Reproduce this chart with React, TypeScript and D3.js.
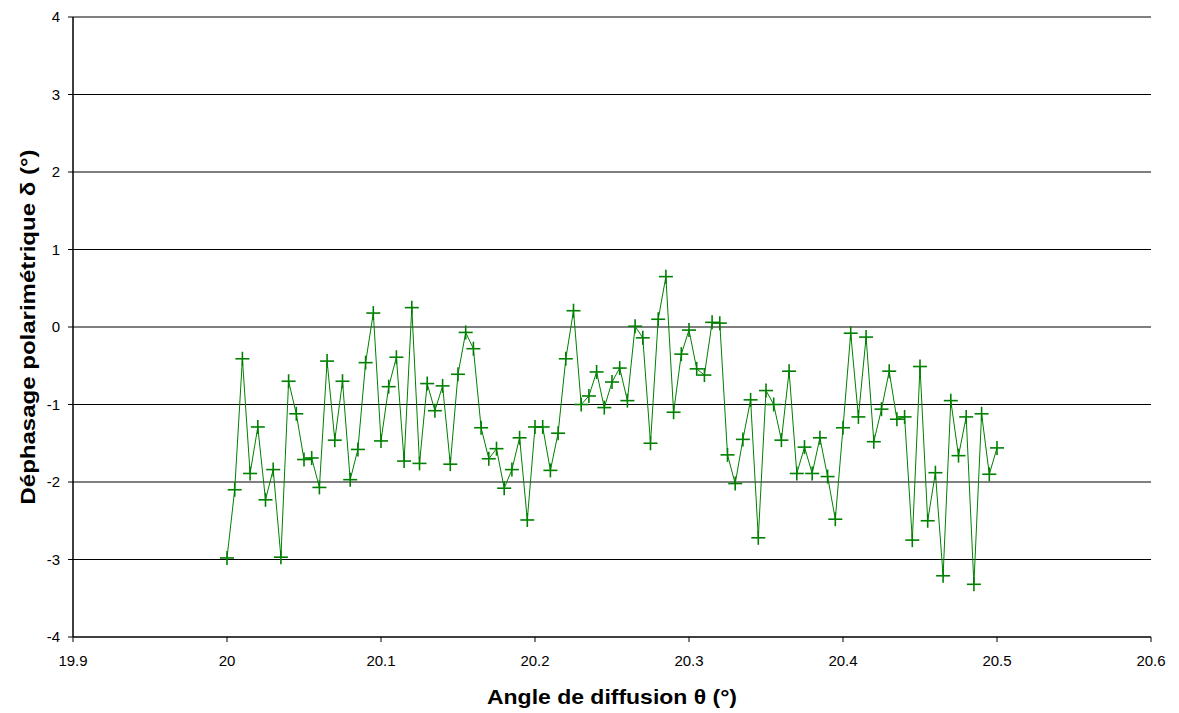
import React from "react";
import * as d3 from "d3";

const xStart = 20.0;
const xStep = 0.005;
const deltaValues: number[] = [
  -2.98, -2.1, -0.41, -1.89, -1.29, -2.23, -1.84, -2.97, -0.7, -1.12,
  -1.71, -1.69, -2.07, -0.44, -1.46, -0.7, -1.97, -1.58, -0.46, 0.18,
  -1.47, -0.77, -0.39, -1.73, 0.25, -1.76, -0.73, -1.08, -0.76, -1.77,
  -0.61, -0.07, -0.28, -1.3, -1.7, -1.57, -2.08, -1.84, -1.43, -2.49,
  -1.29, -1.29, -1.85, -1.37, -0.41, 0.21, -1.0, -0.89, -0.58, -1.04,
  -0.71, -0.53, -0.95, 0.01, -0.14, -1.5, 0.1, 0.65, -1.1, -0.35,
  -0.04, -0.54, -0.62, 0.06, 0.05, -1.65, -2.02, -1.45, -0.94, -2.72,
  -0.82, -1.0, -1.46, -0.57, -1.89, -1.55, -1.89, -1.43, -1.93, -2.48,
  -1.3, -0.08, -1.16, -0.13, -1.48, -1.06, -0.57, -1.19, -1.16, -2.75,
  -0.51, -2.5, -1.88, -3.21, -0.95, -1.66, -1.16, -3.32, -1.12, -1.9,
  -1.56,
];
const xTicks: number[] = [19.9, 20, 20.1, 20.2, 20.3, 20.4, 20.5, 20.6];
const yTicks: number[] = [-4, -3, -2, -1, 0, 1, 2, 3, 4];
const xTitle = "Angle de diffusion θ (°)";
const yTitle = "Déphasage polarimétrique δ (°)";

export default function App() {
  const W = 1179;
  const H = 713;
  const left = 73;
  const right = 1151;
  const top = 17;
  const bottom = 637;
  const x = d3.scaleLinear().domain([19.9, 20.6]).range([left, right]);
  const y = d3.scaleLinear().domain([-4, 4]).range([bottom, top]);
  const pts = deltaValues.map((v, i) => ({ t: xStart + i * xStep, v }));
  const line = d3
    .line<{ t: number; v: number }>()
    .x((d) => x(d.t))
    .y((d) => y(d.v));
  const green = "#008000";
  const font = "'Liberation Sans', Arial, sans-serif";
  const m = 7;

  return (
    <svg
      width={W}
      height={H}
      style={{ position: "absolute", left: 0, top: 0, background: "#fff" }}
      fontFamily={font}
    >
      {yTicks.map((t) => (
        <g key={"y" + t}>
          {t !== -4 && (
            <line x1={left} x2={right} y1={y(t)} y2={y(t)} stroke="#000" strokeWidth={1} />
          )}
          <line x1={left - 5} x2={left} y1={y(t)} y2={y(t)} stroke="#000" strokeWidth={1} />
          <text x={left - 13} y={y(t)} dy="0.35em" textAnchor="end" fontSize={15} fill="#000">
            {String(t)}
          </text>
        </g>
      ))}
      {xTicks.map((t) => (
        <g key={"x" + t}>
          <line x1={x(t)} x2={x(t)} y1={bottom} y2={bottom + 5} stroke="#000" strokeWidth={1} />
          <text x={x(t)} y={bottom + 29} textAnchor="middle" fontSize={15} fill="#000">
            {String(Math.round(t * 10) / 10)}
          </text>
        </g>
      ))}
      <line x1={left} x2={left} y1={top} y2={bottom} stroke="#000" strokeWidth={1.5} />
      <line x1={left} x2={right} y1={bottom} y2={bottom} stroke="#000" strokeWidth={1.5} />
      <path d={line(pts) || ""} fill="none" stroke={green} strokeWidth={1} />
      {pts.map((d, i) => (
        <g key={"p" + i} stroke={green} strokeWidth={1.6}>
          <line x1={x(d.t) - m} x2={x(d.t) + m} y1={y(d.v)} y2={y(d.v)} />
          <line x1={x(d.t)} x2={x(d.t)} y1={y(d.v) - m} y2={y(d.v) + m} />
        </g>
      ))}
      <text
        x={612}
        y={704}
        textAnchor="middle"
        fontSize={21}
        fontWeight="bold"
        fill="#000"
        textLength={250}
        lengthAdjust="spacingAndGlyphs"
      >
        {xTitle}
      </text>
      <text
        transform={`translate(35, ${(top + bottom) / 2}) rotate(-90)`}
        textAnchor="middle"
        fontSize={21}
        fontWeight="bold"
        fill="#000"
        textLength={355}
        lengthAdjust="spacingAndGlyphs"
      >
        {yTitle}
      </text>
    </svg>
  );
}
